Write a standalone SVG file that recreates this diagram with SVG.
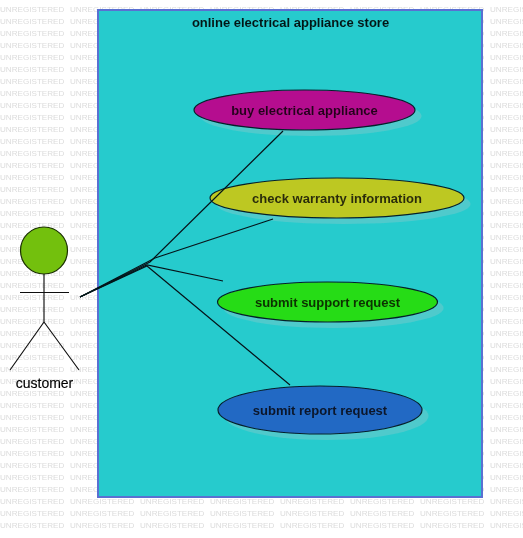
<svg xmlns="http://www.w3.org/2000/svg" width="523" height="538" viewBox="0 0 523 538">
<style>
.wm{font:8.1px "Liberation Sans",Arial,sans-serif;fill:#dcdcdc}
.lbl{font:bold 13px "Liberation Sans",Arial,sans-serif;text-anchor:middle;fill:#000;fill-opacity:.78}
.sh{fill:#50cacc;stroke:none;filter:url(#soft)}
.uc{stroke:#06202c;stroke-width:1.2}
.con{fill:none;stroke:#06141a;stroke-width:1.2}
.fig{fill:none;stroke:#111;stroke-width:1.15}
</style>
<defs>
<filter id="soft" x="-10%" y="-20%" width="120%" height="140%"><feGaussianBlur stdDeviation="0.6"/></filter>
<filter id="scan" x="0" y="0" width="100%" height="100%"><feGaussianBlur stdDeviation="0.3"/></filter>
<g id="wmrow">
<text class="wm" x="0" y="0">UNREGISTERED</text>
<text class="wm" x="70" y="0">UNREGISTERED</text>
<text class="wm" x="140" y="0">UNREGISTERED</text>
<text class="wm" x="210" y="0">UNREGISTERED</text>
<text class="wm" x="280" y="0">UNREGISTERED</text>
<text class="wm" x="350" y="0">UNREGISTERED</text>
<text class="wm" x="420" y="0">UNREGISTERED</text>
<text class="wm" x="490" y="0">UNREGISTERED</text>
</g>
</defs>
<g filter="url(#scan)">
<rect width="523" height="538" fill="#fff"/>
<g id="watermark">
<use href="#wmrow" y="12"/><use href="#wmrow" y="24"/><use href="#wmrow" y="36"/><use href="#wmrow" y="48"/><use href="#wmrow" y="60"/><use href="#wmrow" y="72"/><use href="#wmrow" y="84"/><use href="#wmrow" y="96"/><use href="#wmrow" y="108"/><use href="#wmrow" y="120"/><use href="#wmrow" y="132"/><use href="#wmrow" y="144"/><use href="#wmrow" y="156"/><use href="#wmrow" y="168"/><use href="#wmrow" y="180"/><use href="#wmrow" y="192"/><use href="#wmrow" y="204"/><use href="#wmrow" y="216"/><use href="#wmrow" y="228"/><use href="#wmrow" y="240"/><use href="#wmrow" y="252"/><use href="#wmrow" y="264"/><use href="#wmrow" y="276"/><use href="#wmrow" y="288"/><use href="#wmrow" y="300"/><use href="#wmrow" y="312"/><use href="#wmrow" y="324"/><use href="#wmrow" y="336"/><use href="#wmrow" y="348"/><use href="#wmrow" y="360"/><use href="#wmrow" y="372"/><use href="#wmrow" y="384"/><use href="#wmrow" y="396"/><use href="#wmrow" y="408"/><use href="#wmrow" y="420"/><use href="#wmrow" y="432"/><use href="#wmrow" y="444"/><use href="#wmrow" y="456"/><use href="#wmrow" y="468"/><use href="#wmrow" y="480"/><use href="#wmrow" y="492"/><use href="#wmrow" y="504"/><use href="#wmrow" y="516"/><use href="#wmrow" y="528"/>
</g>
<g id="system">
<rect x="98" y="10" width="384" height="487" fill="#27cbcd" stroke="#5a70d2" stroke-width="2"/>
<text class="lbl" x="290.5" y="27" style="fill-opacity:.88">online electrical appliance store</text>
</g>
<g id="uc-buy">
<ellipse class="sh" cx="311" cy="116" rx="110.5" ry="20"/>
<ellipse class="uc" cx="304.5" cy="110" rx="110.5" ry="20" fill="#b5108f"/>
<text class="lbl" x="304.5" y="115">buy electrical appliance</text>
</g>
<g id="uc-warranty">
<ellipse class="sh" cx="343.5" cy="204" rx="127" ry="20"/>
<ellipse class="uc" cx="337" cy="198" rx="127" ry="20" fill="#bdc823"/>
<text class="lbl" x="337" y="203">check warranty information</text>
</g>
<g id="uc-support">
<ellipse class="sh" cx="333.5" cy="308" rx="110" ry="20"/>
<ellipse class="uc" cx="327.5" cy="302" rx="110" ry="20" fill="#28dc12"/>
<text class="lbl" x="327.5" y="307">submit support request</text>
</g>
<g id="uc-report">
<ellipse class="sh" cx="326.5" cy="416" rx="102" ry="24"/>
<ellipse class="uc" cx="320" cy="410" rx="102" ry="24" fill="#2469c4"/>
<text class="lbl" x="320" y="415">submit report request</text>
</g>
<g id="connectors">
<polyline class="con" points="80,297 150,262 283,131"/>
<polyline class="con" points="80,297 155,258 273,219"/>
<polyline class="con" points="80,297 147,265 223,281"/>
<polyline class="con" points="80,297 147,266 290,385"/>
</g>
<g id="actor-customer">
<circle cx="44" cy="250.5" r="23.5" fill="#73c00a" stroke="#1a3000" stroke-width="1.2"/>
<path class="fig" d="M44 274V322M20 292.5H69M44 322L10 370M44 322L79 370"/>
<text x="44.5" y="388" text-anchor="middle" style="font:14px 'Liberation Sans',Arial,sans-serif;fill:#000;stroke:#000;stroke-width:.15">customer</text>
</g>
</g>
</svg>
